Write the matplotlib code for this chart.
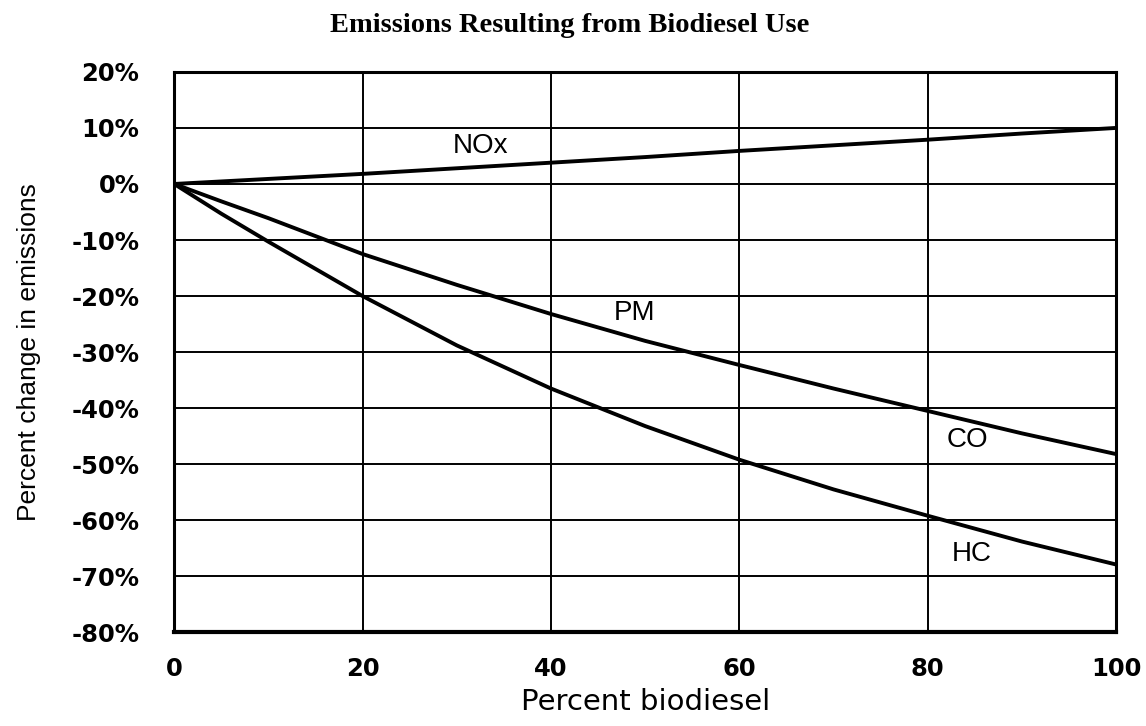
import matplotlib
matplotlib.use("Agg")
import matplotlib.pyplot as plt

# values (percent change vs percent biodiesel)
blend = [0, 5, 10, 20, 30, 40, 50, 60, 70, 80, 90, 100]
nox = [0, 0.45, 0.9, 1.8, 2.8, 3.8, 4.8, 5.9, 6.9, 7.9, 9, 10]
pm_co = [0, -3.1, -6.1, -12.5, -18, -23.2, -28, -32.3, -36.5, -40.5, -44.5, -48.2]
hc = [0, -5.3, -10.3, -20, -28.8, -36.5, -43.2, -49.2, -54.5, -59.2, -63.8, -67.9]

curve_labels = ["NOx", "PM", "CO", "HC"]
label_pos = [(32.5, 6.8), (48.9, -23.0), (84.2, -45.7), (84.7, -66.1)]

yticks = list(range(-80, 21, 10))
xticks = [0, 20, 40, 60, 80, 100]

plt.rcParams["font.family"] = ["Liberation Sans", "DejaVu Sans"]

fig = plt.figure(figsize=(11.46, 7.26), dpi=100)
ax = fig.add_axes([0.152, 0.129, 0.822, 0.772])

for ys in (nox, pm_co, hc):
    ax.plot(blend, ys, color="black", lw=2.8, solid_capstyle="butt",
            solid_joinstyle="round", zorder=3)

for txt, (x, y) in zip(curve_labels, label_pos):
    ax.text(x, y, txt, fontsize=20, ha="center", va="center", zorder=4)

ax.set_xlim(0, 100)
ax.set_ylim(-80, 20)
ax.set_xticks(xticks)
ax.set_yticks(yticks)
ax.set_yticklabels([f"{v}%" for v in yticks])
ax.tick_params(length=0)
ax.tick_params(axis="y", pad=25)
ax.tick_params(axis="x", pad=18)
for lab in ax.get_xticklabels() + ax.get_yticklabels():
    lab.set_fontfamily("DejaVu Sans")
    lab.set_fontweight("bold")
    lab.set_fontsize(17.5)

ax.grid(True, color="black", lw=1.4)
ax.set_axisbelow(True)
for side in ax.spines.values():
    side.set_linewidth(2.2)
ax.spines["bottom"].set_linewidth(3)

ax.set_xlabel("Percent biodiesel", family="DejaVu Sans", fontsize=21, labelpad=5)
ax.set_ylabel("Percent change in emissions", fontsize=19, labelpad=22)
fig.suptitle("Emissions Resulting from Biodiesel Use", family="Liberation Serif",
             fontweight="bold", fontsize=20.5, x=0.497, y=0.982)

fig.savefig("out.png", dpi=100)
